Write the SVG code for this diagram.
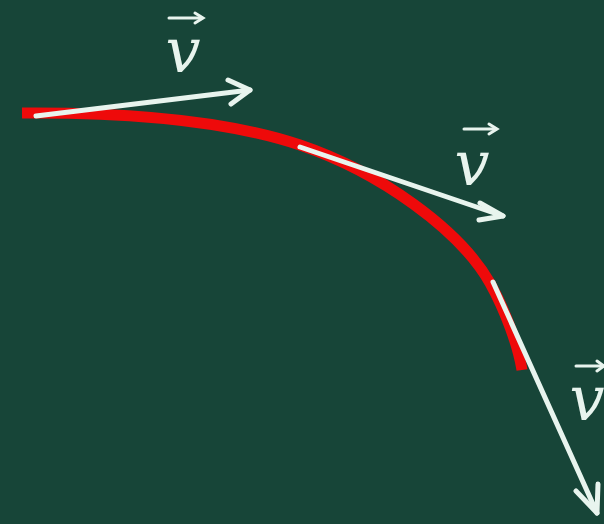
<svg xmlns="http://www.w3.org/2000/svg" width="604" height="524" viewBox="0 0 604 524">
<defs>
<style>
.vec{stroke:#e8f4ee;stroke-width:5;fill:none;stroke-linecap:round;stroke-linejoin:round}
.head{stroke:#e8f4ee;stroke-width:5;fill:none;stroke-linecap:round;stroke-linejoin:round}
.small{stroke:#e8f4ee;stroke-width:3;fill:none;stroke-linecap:round}
.lbl{font-family:"DejaVu Serif","Liberation Serif",serif;font-style:italic;font-size:62px;fill:#e8f4ee;text-anchor:middle}
</style>
</defs>
<rect width="604" height="524" fill="#174538"/>
<g id="curve">
<path d="M22,113 C150,112 240,125 300,145 C380,172 460,230 490,283 C505,310 518,345 522,370" stroke="#ee0a0a" stroke-width="11" fill="none" stroke-linecap="butt"/>
</g>
<g id="connectors">
<path class="vec" d="M36,116 L250,90"/>
<path class="head" d="M228,80 L250,90 L231,104"/>
<path class="vec" d="M300,147 L503,216"/>
<path class="head" d="M480,203 L503,216 L479,220"/>
<path class="vec" d="M493,282 L597,513"/>
<path class="head" d="M576,491 L597,513 L598,484"/>
</g>
<g id="label1">
<text class="lbl" x="183" y="72">v</text>
<path class="small" d="M169,18 L202,18"/>
<path class="small" d="M195,13 L203,18 L195,23"/>
</g>
<g id="label2">
<text class="lbl" x="472" y="185">v</text>
<path class="small" d="M464,129 L496,129"/>
<path class="small" d="M489,124 L497,129 L489,134"/>
</g>
<g id="label3">
<text class="lbl" x="587" y="420">v</text>
<path class="small" d="M576,366 L603,366"/>
<path class="small" d="M597,361 L604,366 L597,371"/>
</g>
</svg>
